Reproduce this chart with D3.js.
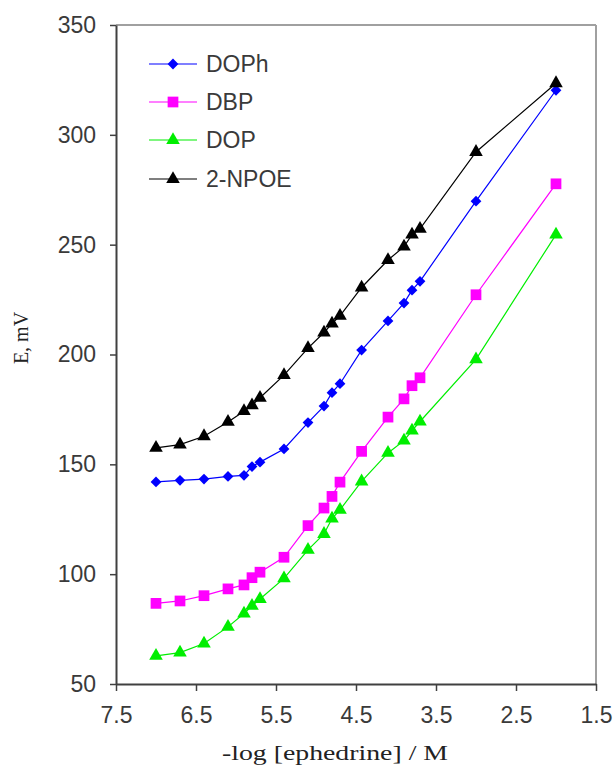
<!DOCTYPE html>
<html>
<head>
<meta charset="utf-8">
<script src="https://cdn.jsdelivr.net/npm/d3@7"></script>
<style>
  html, body { margin: 0; padding: 0; background: #fff; }
  svg { display: block; }
</style>
</head>
<body>
<div id="chart"></div>
<script>
// ---- data ----
const xValues = [7.0, 6.7, 6.4, 6.1, 5.9, 5.8, 5.7, 5.4, 5.1, 4.9, 4.8, 4.7, 4.43, 4.1, 3.9, 3.8, 3.7, 3.0, 2.0];
const seriesNames = ["DOPh", "DBP", "DOP", "2-NPOE"];
const dophValues = [142, 142.7, 143.3, 144.5, 145, 149, 151, 157, 169, 176.5, 182.6, 186.7, 202, 215.3, 223.4, 229.3, 233.3, 269.8, 320.3];
const dbpValues  = [86.7, 87.8, 90.2, 93.3, 95.1, 98.4, 100.9, 107.7, 122.1, 130.1, 135.4, 141.9, 155.9, 171.5, 179.8, 185.8, 189.4, 227.2, 277.7];
const dopValues  = [62.8, 64.3, 68.4, 76.0, 82.1, 85.6, 88.7, 98.1, 111.1, 118.3, 125.3, 129.3, 142.2, 155.2, 160.8, 165.4, 169.5, 197.8, 254.6];
const npoeValues = [157.5, 159.0, 162.8, 169.3, 174.2, 176.9, 180.3, 190.6, 202.9, 210, 214.1, 217.6, 230.5, 243, 249.1, 254.6, 257.2, 292.2, 323.5];
const xTicks = [7.5, 6.5, 5.5, 4.5, 3.5, 2.5, 1.5];
const yTicks = [50, 100, 150, 200, 250, 300, 350];
const xTitle = "-log [ephedrine] / M";
const yTitle = "E, mV";

// ---- styles ----
const colors = { "DOPh": "#0000ff", "DBP": "#ff00ff", "DOP": "#00ee00", "2-NPOE": "#000000" };
const symbols = { "DOPh": "diamond", "DBP": "square", "DOP": "triangle", "2-NPOE": "triangle" };
const valuesBy = { "DOPh": dophValues, "DBP": dbpValues, "DOP": dopValues, "2-NPOE": npoeValues };

const W = 613, H = 770;
const mLeft = 116, mRight = 596, mTop = 25, mBottom = 684;

const svg = d3.select("#chart").append("svg").attr("width", W).attr("height", H);

const x = d3.scaleLinear().domain([7.5, 1.5]).range([mLeft, mRight]);
const y = d3.scaleLinear().domain([50, 350]).range([mBottom, mTop]);

// frame (top & right in gray)
svg.append("line").attr("x1", mLeft).attr("x2", mRight).attr("y1", mTop).attr("y2", mTop)
  .attr("stroke", "#a0a0a0").attr("stroke-width", 2);
svg.append("line").attr("x1", mRight).attr("x2", mRight).attr("y1", mTop).attr("y2", mBottom)
  .attr("stroke", "#a0a0a0").attr("stroke-width", 2);

const sans = "'Liberation Sans', Arial, sans-serif";
const serif = "'Liberation Serif', 'Times New Roman', serif";

// axes
const yAxis = svg.append("g").attr("transform", `translate(${mLeft},0)`)
  .call(d3.axisLeft(y).tickValues(yTicks).tickSize(6).tickSizeOuter(0).tickPadding(14).tickFormat(d3.format("d")));
const xAxis = svg.append("g").attr("transform", `translate(0,${mBottom})`)
  .call(d3.axisBottom(x).tickValues(xTicks).tickSize(7).tickSizeOuter(0).tickPadding(16).tickFormat(d3.format(".1f")));

[yAxis, xAxis].forEach(g => {
  g.select(".domain").attr("stroke", "#404040").attr("stroke-width", 2);
  g.selectAll(".tick line").attr("stroke", "#404040").attr("stroke-width", 1.5);
  g.selectAll(".tick text").attr("font-family", sans).attr("font-size", 23).attr("fill", "#3a3a3a");
});

// series
const line = d3.line().x((d, i) => x(xValues[i])).y(d => y(d));
const symType = { diamond: d3.symbolSquare, square: d3.symbolSquare, triangle: d3.symbolTriangle };
const symSize = { diamond: 58, square: 115, triangle: 80 };
const symRot = { diamond: 45, square: 0, triangle: 0 };

seriesNames.forEach(name => {
  const vals = valuesBy[name];
  const s = symbols[name];
  svg.append("path").datum(vals).attr("d", line)
    .attr("fill", "none").attr("stroke", colors[name]).attr("stroke-width", 1.2);
  const sym = d3.symbol().type(symType[s]).size(symSize[s]);
  svg.append("g").selectAll("path").data(vals).join("path")
    .attr("d", sym)
    .attr("transform", (d, i) => `translate(${x(xValues[i])},${y(d)}) rotate(${symRot[s]})`)
    .attr("fill", colors[name]);
});

// legend
const legend = svg.append("g");
const legendY = [64, 102, 140, 179];
seriesNames.forEach((name, i) => {
  const gy = legendY[i];
  const s = symbols[name];
  legend.append("line").attr("x1", 149).attr("x2", 197).attr("y1", gy).attr("y2", gy)
    .attr("stroke", colors[name]).attr("stroke-width", 1.2);
  const sym = d3.symbol().type(symType[s]).size(symSize[s]);
  legend.append("path").attr("d", sym).attr("transform", `translate(173,${gy}) rotate(${symRot[s]})`).attr("fill", colors[name]);
  legend.append("text").attr("x", 206).attr("y", gy).attr("dy", "0.36em")
    .attr("font-family", sans).attr("font-size", 23).attr("fill", "#3a3a3a").text(name);
});

// titles
svg.append("text").attr("x", 335).attr("y", 760).attr("text-anchor", "middle")
  .attr("font-family", serif).attr("font-size", 22).attr("fill", "#222")
  .attr("textLength", 226).attr("lengthAdjust", "spacingAndGlyphs").text(xTitle);
svg.append("text").attr("transform", "translate(28,338) rotate(-90)").attr("text-anchor", "middle")
  .attr("font-family", serif).attr("font-size", 20).attr("fill", "#222").text(yTitle);
</script>
</body>
</html>
